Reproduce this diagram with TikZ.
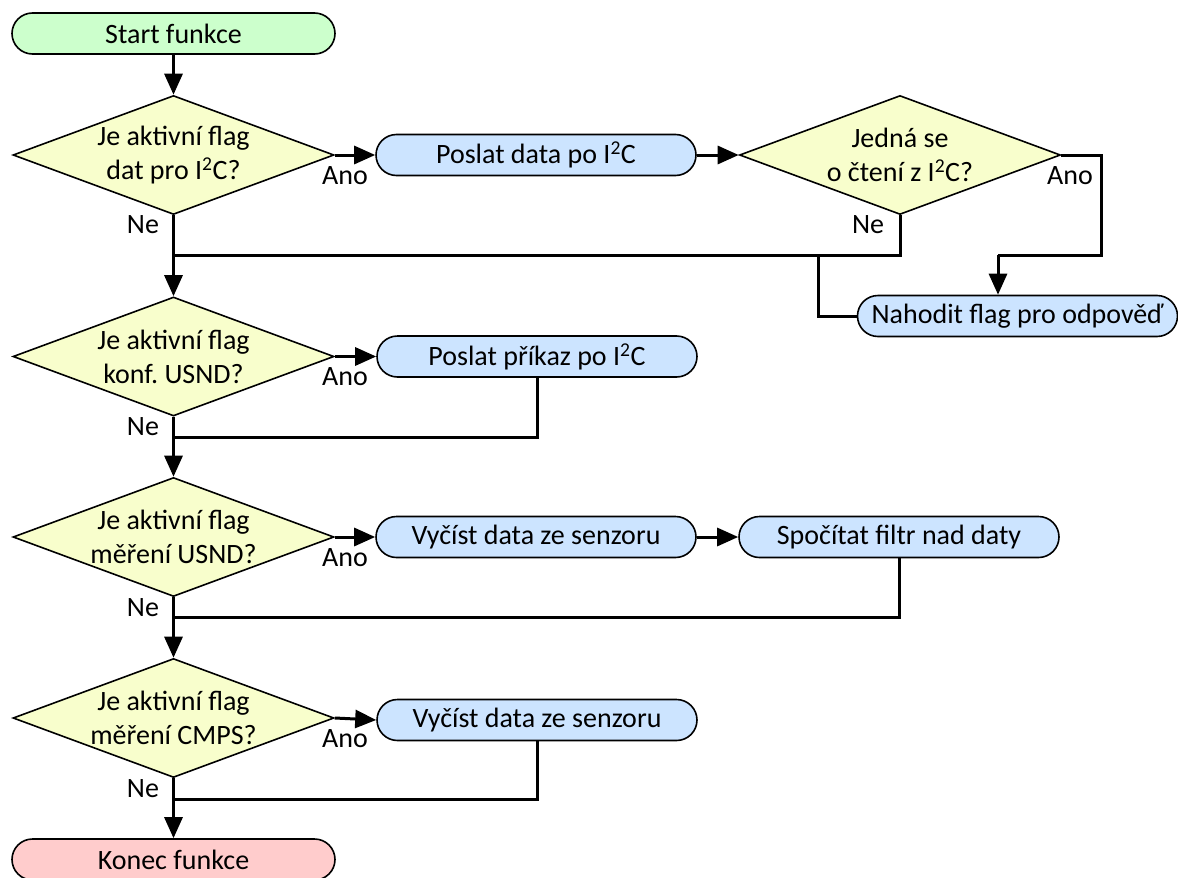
\documentclass[tikz,border=0pt]{standalone}
\usepackage{fontspec}
\setmainfont{Carlito}
\frenchspacing
\usetikzlibrary{shapes.geometric,arrows.meta}
\definecolor{startgreen}{RGB}{204,255,204}
\definecolor{endpink}{RGB}{255,204,204}
\definecolor{procblue}{RGB}{204,228,255}
\definecolor{decyellow}{RGB}{248,254,204}
\begin{document}
\begin{tikzpicture}[x=1pt,y=-1pt,
 every node/.style={font=\fontsize{28}{34}\selectfont},
 base/.style={draw=black, line width=1.6pt, rounded corners=20.5pt, minimum height=41pt, inner sep=0pt},
 startbox/.style={base, fill=startgreen, minimum width=323pt},
 endbox/.style={base, fill=endpink, minimum width=323pt},
 procbox/.style={base, fill=procblue, minimum width=320pt},
 decbox/.style={diamond, draw=black, line width=1.6pt, fill=decyellow, minimum width=321pt, minimum height=119pt, inner sep=0pt},
 dectext/.style={align=center, inner sep=0pt},
 lbl/.style={inner sep=0pt},
 flow/.style={line width=3pt},
 arr/.style={flow, -{Triangle[length=21pt,width=18pt]}},
]
\useasboundingbox (0,0) rectangle (1178,878);

% nodes
\node[startbox] (start) at (173.5,33.5) {Start funkce};
\node[decbox, label={[dectext]center:{Je aktivní flag\\dat pro I\textsuperscript{2}C?}}] (d1) at (173.5,155) {};
\node[procbox] (p1) at (536,155) {Poslat data po I\textsuperscript{2}C};
\node[decbox, label={[dectext]center:{Jedná se\\o čtení z I\textsuperscript{2}C?}}] (d2) at (900,155) {};
\node[procbox] (nah) at (1017.5,316) {Nahodit flag pro odpověď};

\node[decbox, label={[dectext]center:{Je aktivní flag\\konf. USND?}}] (d3) at (173.5,356.5) {};
\node[procbox] (p2) at (537,356.5) {Poslat příkaz po I\textsuperscript{2}C};

\node[decbox, label={[dectext]center:{Je aktivní flag\\měření USND?}}] (d4) at (173.5,537) {};
\node[procbox] (p3) at (536,537) {Vyčíst data ze senzoru};
\node[procbox] (p4) at (899,537) {Spočítat filtr nad daty};

\node[decbox, label={[dectext]center:{Je aktivní flag\\měření CMPS?}}] (d5) at (173.5,718) {};
\node[procbox] (p5) at (537,720) {Vyčíst data ze senzoru};

\node[endbox] (end) at (173.5,859.5) {Konec funkce};

% labels
\node[lbl] (a1) at (345,176) {Ano};
\node[lbl] (n1) at (143,225) {Ne};
\node[lbl] (a2) at (1070,176) {Ano};
\node[lbl] (n2) at (868,225) {Ne};
\node[lbl] (a3) at (345,377) {Ano};
\node[lbl] (n3) at (143,427) {Ne};
\node[lbl] (a4) at (345,558) {Ano};
\node[lbl] (n4) at (143,608) {Ne};
\node[lbl] (a5) at (345,739) {Ano};
\node[lbl] (n5) at (143,789) {Ne};

% junction coordinates
\coordinate (m1) at (173.5,255);
\coordinate (m1r) at (818,255);
\coordinate (r2) at (1101,155);
\coordinate (r2b) at (1101,255);
\coordinate (nahtop) at (998,255);
\coordinate (m2) at (173.5,437);
\coordinate (m3) at (173.5,617);
\coordinate (m4) at (173.5,799);

% connectors
\draw[arr] (start.south) -- (d1.north);
\draw[arr] (d1.east) -- (p1.west);
\draw[arr] (p1.east) -- (d2.west);
\draw[flow] (d2.east) -- (r2) -- (r2b) -- (nahtop);
\draw[arr] (nahtop) -- (nahtop |- nah.north);
\draw[flow] (d2.south) |- (m1);
\draw[flow] (nah.west) -| (m1r);
\draw[arr] (d1.south) -- (d3.north);

\draw[arr] (d3.east) -- (p2.west);
\draw[flow] (p2.south) |- (m2);
\draw[arr] (d3.south) -- (d4.north);

\draw[arr] (d4.east) -- (p3.west);
\draw[arr] (p3.east) -- (p4.west);
\draw[flow] (p4.south) |- (m3);
\draw[arr] (d4.south) -- (d5.north);

\draw[arr] (d5.east) -- (p5.west);
\draw[flow] (p5.south) |- (m4);
\draw[arr] (d5.south) -- (end.north);
\end{tikzpicture}
\end{document}
